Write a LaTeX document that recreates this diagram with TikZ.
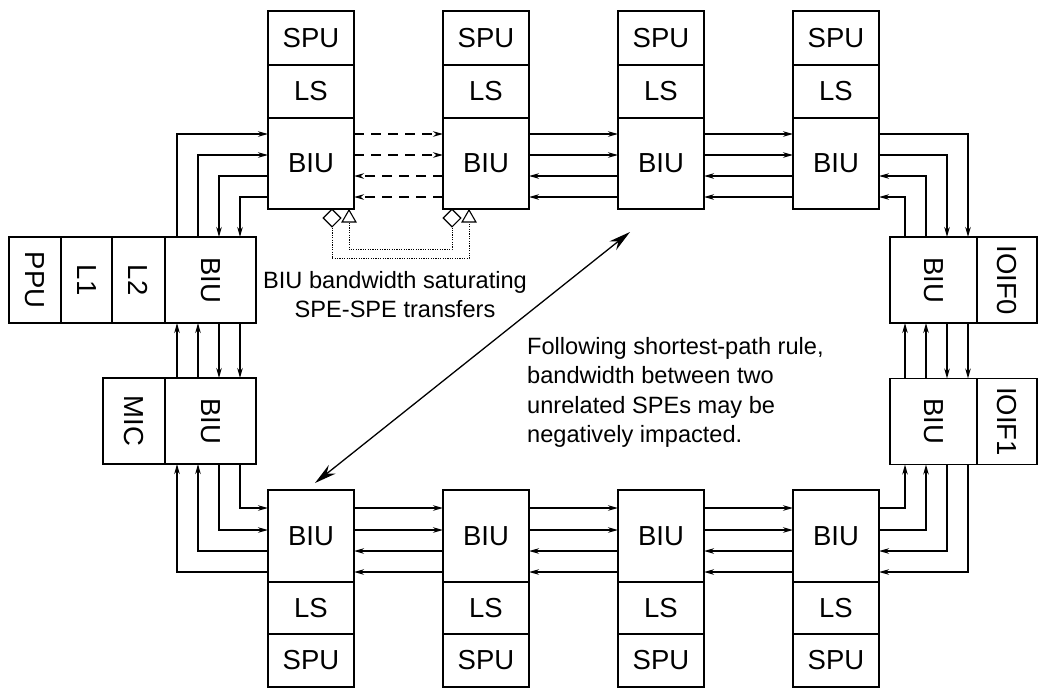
\documentclass[tikz,border=0pt]{standalone}
\usepackage{fontspec}
\setmainfont{Liberation Sans}
\usepackage{graphicx}
\usetikzlibrary{arrows.meta,positioning,calc,shapes.geometric}

\begin{document}
\begin{tikzpicture}[x=1pt,y=-1pt,node distance=0pt,
  unit/.style={draw,line width=1.3pt,outer sep=0pt,inner sep=0pt,
               minimum width=86pt,font=\fontsize{27.5}{30}\selectfont},
  biu/.style={unit,minimum height=91pt},
  mem/.style={unit,minimum height=53pt},
  side/.style={draw,line width=1.3pt,outer sep=0pt,inner sep=0pt,
               minimum height=86pt,font=\fontsize{27.5}{30}\selectfont},
  ring/.style={line width=1.3pt,-{Stealth[length=10pt,width=5.5pt]}},
  dashline/.style={dash pattern=on 10pt off 7pt},
  dots/.style={line width=1pt,dash pattern=on 1.2pt off 1.2pt},
  hotmark/.style={draw,line width=1.1pt,inner sep=0pt},
  note/.style={font=\fontsize{23.6}{29.5}\selectfont,inner sep=0pt}]
  \useasboundingbox (0,0) rectangle (1041,689);
  % lanes of the ring
  \foreach \n/\y in {1/134,2/155,3/176,4/197}
    \coordinate (tl\n) at (0,\y);
  \foreach \n/\y in {1/508,2/530,3/551,4/572}
    \coordinate (bl\n) at (0,\y);
  \foreach \n/\x in {1/177,2/198,3/219,4/240}
    \coordinate (vl\n) at (\x,0);
  \foreach \n/\x in {1/905,2/926,3/947,4/968}
    \coordinate (vr\n) at (\x,0);

  % SPEs, top and bottom
  \foreach \i/\x in {1/311,2/486,3/661,4/836}{
    \node[biu](T\i) at (\x,163.5){BIU};
    \node[mem,above=of T\i](TL\i){LS};
    \node[mem,minimum height=54pt,above=of TL\i](TS\i){SPU};
    \node[biu,minimum height=92pt](B\i) at (\x,536){BIU};
    \node[mem,minimum height=52pt,below=of B\i](BL\i){LS};
    \node[mem,below=of BL\i](BS\i){SPU};
  }

  % PPE and MIC
  \node[side,minimum width=91pt](P) at (210.5,280){\rotatebox{-90}{BIU}};
  \node[side,minimum width=53pt,left=of P](L2){\rotatebox{-90}{L2}};
  \node[side,minimum width=51pt,left=of L2](L1){\rotatebox{-90}{L1}};
  \node[side,minimum width=52pt,left=of L1](PPU){\rotatebox{-90}{PPU}};
  \node[side,minimum width=91pt](M) at (210.5,421){\rotatebox{-90}{BIU}};
  \node[side,minimum width=62pt,left=of M](MIC){\rotatebox{-90}{MIC}};

  % IOIFs
  \node[side,minimum width=87pt](IA) at (933.5,280){\rotatebox{-90}{BIU}};
  \node[side,minimum width=60pt,right=of IA](IOIF0){\rotatebox{-90}{IOIF0}};
  \node[side,minimum width=87pt](IB) at (933.5,421.5){\rotatebox{-90}{BIU}};
  \node[side,minimum width=60pt,right=of IB](IOIF1){\rotatebox{-90}{IOIF1}};

  % left side of the ring
  \draw[ring](P.north -| vl1) |- (T1.west |- tl1);
  \draw[ring](P.north -| vl2) |- (T1.west |- tl2);
  \draw[ring](T1.west |- tl3) -| (P.north -| vl3);
  \draw[ring](T1.west |- tl4) -| (P.north -| vl4);
  \draw[ring](M.north -| vl1) -- (P.south -| vl1);
  \draw[ring](M.north -| vl2) -- (P.south -| vl2);
  \draw[ring](P.south -| vl3) -- (M.north -| vl3);
  \draw[ring](P.south -| vl4) -- (M.north -| vl4);
  \draw[ring](M.south -| vl4) |- (B1.west |- bl1);
  \draw[ring](M.south -| vl3) |- (B1.west |- bl2);
  \draw[ring](B1.west |- bl3) -| (M.south -| vl2);
  \draw[ring](B1.west |- bl4) -| (M.south -| vl1);

  % top and bottom rows
  \foreach \i/\j/\s in {1/2/dashline,2/3/solid,3/4/solid}{
    \draw[ring,\s](T\i.east |- tl1) -- (T\j.west |- tl1);
    \draw[ring,\s](T\i.east |- tl2) -- (T\j.west |- tl2);
    \draw[ring,\s](T\j.west |- tl3) -- (T\i.east |- tl3);
    \draw[ring,\s](T\j.west |- tl4) -- (T\i.east |- tl4);
  }
  \foreach \i/\j in {1/2,2/3,3/4}{
    \draw[ring](B\i.east |- bl1) -- (B\j.west |- bl1);
    \draw[ring](B\i.east |- bl2) -- (B\j.west |- bl2);
    \draw[ring](B\j.west |- bl3) -- (B\i.east |- bl3);
    \draw[ring](B\j.west |- bl4) -- (B\i.east |- bl4);
  }

  % right side of the ring
  \draw[ring](T4.east |- tl1) -| (IA.north -| vr4);
  \draw[ring](T4.east |- tl2) -| (IA.north -| vr3);
  \draw[ring](IA.north -| vr2) |- (T4.east |- tl3);
  \draw[ring](IA.north -| vr1) |- (T4.east |- tl4);
  \draw[ring](IA.south -| vr3) -- (IB.north -| vr3);
  \draw[ring](IA.south -| vr4) -- (IB.north -| vr4);
  \draw[ring](IB.north -| vr1) -- (IA.south -| vr1);
  \draw[ring](IB.north -| vr2) -- (IA.south -| vr2);
  \draw[ring](B4.east |- bl1) -| (IB.south -| vr1);
  \draw[ring](B4.east |- bl2) -| (IB.south -| vr2);
  \draw[ring](IB.south -| vr3) |- (B4.east |- bl3);
  \draw[ring](IB.south -| vr4) |- (B4.east |- bl4);

  % saturated BIUs
  \node[hotmark,diamond,minimum size=18pt](D1) at ($(T1.south east)+(-22,9)$){};
  \node[hotmark,regular polygon,regular polygon sides=3,minimum size=16pt]
       (A1) at ($(T1.south east)+(-5,9)$){};
  \node[hotmark,diamond,minimum size=18pt](D2) at ($(T2.south west)+(9,9)$){};
  \node[hotmark,regular polygon,regular polygon sides=3,minimum size=16pt]
       (A2) at ($(T2.south west)+(26,9)$){};
  \draw[dots](D1.south) -- ++(0,31) -| (A2.south);
  \draw[dots](A1.south) -- ++(0,27) -| (D2.south);
  \node[note,anchor=north,align=center](N1) at (395,271)
       {BIU bandwidth saturating\\SPE-SPE transfers};

  % unrelated SPEs
  \coordinate (farA) at (630,232);
  \coordinate (farB) at (315,483);
  \draw[line width=1.3pt,{Stealth[length=22pt,width=11pt]}-{Stealth[length=22pt,width=11pt]}]
       (farB) -- (farA);
  \node[note,anchor=north west,align=left](N2) at (527,337)
       {Following shortest-path rule,\\bandwidth between two\\unrelated SPEs may be\\negatively impacted.};
\end{tikzpicture}
\end{document}
